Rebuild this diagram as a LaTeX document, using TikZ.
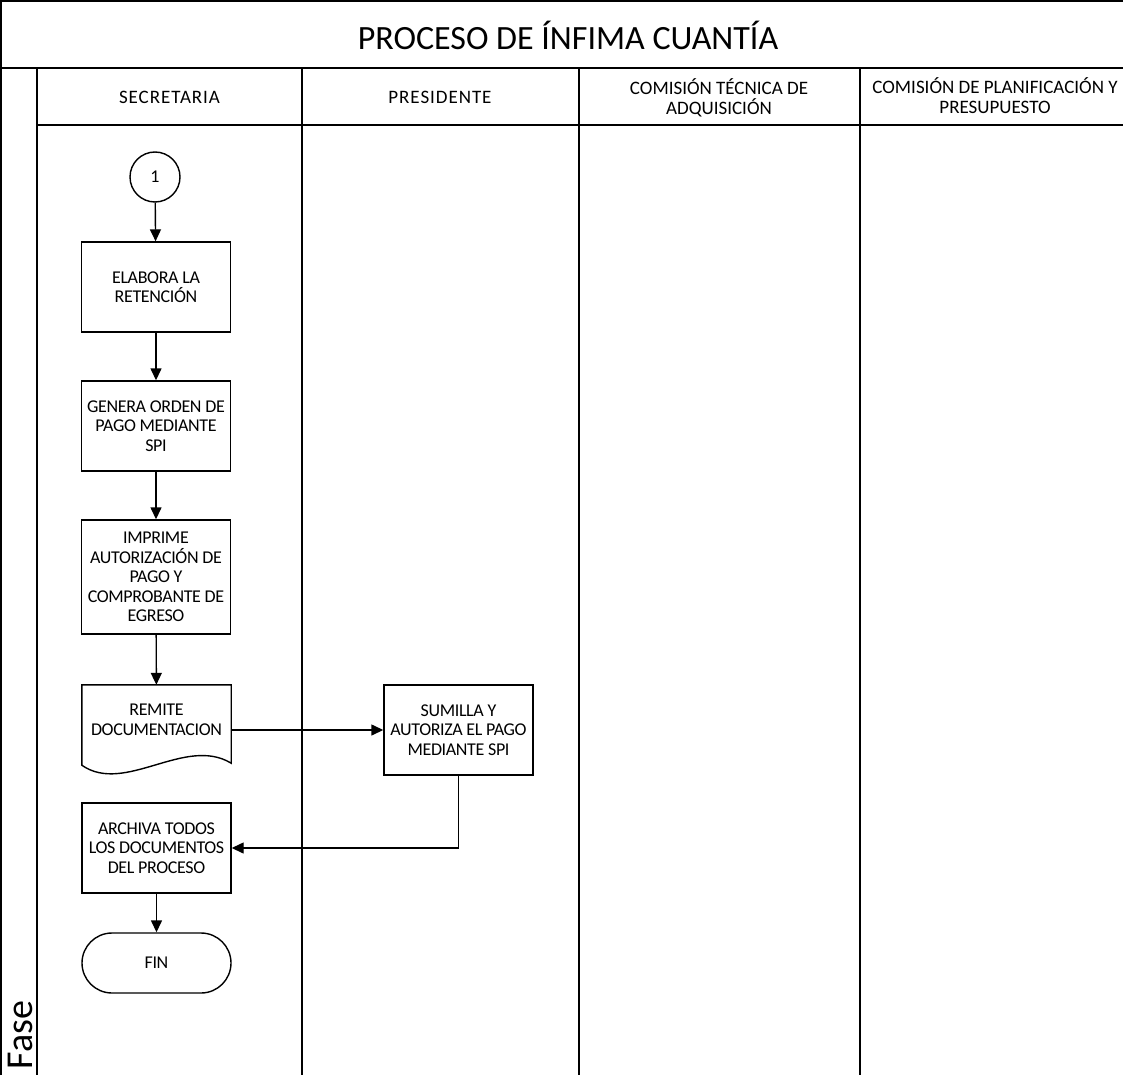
\documentclass[tikz,border=0pt]{standalone}
\usepackage{fontspec}
\setmainfont{Carlito}
\usetikzlibrary{arrows.meta}
\begin{document}
\begin{tikzpicture}[x=1pt,y=-1pt,
  grid/.style={line width=1.5pt},
  boxfont/.style={font=\fontsize{18}{19.5}\selectfont\addfontfeature{LetterSpace=-2}},
  proc/.style={draw, rectangle, line width=1.4pt, minimum width=149pt, minimum height=90pt,
    align=center, inner sep=1pt, boxfont},
  term/.style={proc, minimum height=60pt, rounded corners=30pt},
  conn/.style={draw, circle, line width=1.4pt, minimum size=50pt, inner sep=0pt, boxfont},
  label/.style={align=center, boxfont},
  hdr/.style={align=center, font=\fontsize{19}{20}\selectfont},
  hdrwide/.style={align=center, font=\fontsize{19}{20}\selectfont\addfontfeature{LetterSpace=5}},
  flow/.style={-{Triangle[length=12pt,width=11pt]}, line width=1.4pt},
]
\useasboundingbox (0,0) rectangle (1123,1075);

% frame, title row, phase column and lanes
\draw[grid] (1,1075) -- (1,1) -- (1123,1);
\draw[grid] (0,68) -- (1123,68);
\draw[grid] (37,68) -- (37,1075);
\draw[grid] (37,125) -- (1123,125);
\foreach \x in {302,579,860} \draw[grid] (\x,68) -- (\x,1075);

\node[font=\fontsize{34}{40}\selectfont] (title) at (568,35) {PROCESO DE ÍNFIMA CUANTÍA};
\node[rotate=90, font=\fontsize{38}{44}\selectfont] (fase) at (20,1035) {Fase};

\node[hdrwide] (h1) at (169.5,97) {SECRETARIA};
\node[hdrwide] (h2) at (440,97) {PRESIDENTE};
\node[hdr] (h3) at (719,98) {COMISIÓN TÉCNICA DE\\ADQUISICIÓN};
\node[hdr] (h4) at (995,96) {COMISIÓN DE PLANIFICACIÓN Y\\PRESUPUESTO};

% flow
\node[conn] (uno) at (155,177) {1};
\node[proc] (elabora) at (156,287) {ELABORA LA\\RETENCIÓN};
\node[proc] (genera) at (156,426) {GENERA ORDEN DE\\PAGO MEDIANTE\\SPI};
\node[proc, minimum height=114pt] (imprime) at (156,577) {IMPRIME\\AUTORIZACIÓN DE\\PAGO Y\\COMPROBANTE DE\\EGRESO};
\node[minimum width=149pt, minimum height=90pt, inner sep=0pt] (remite) at (156.5,730) {};
\draw[line width=1.4pt] (remite.north west) -- (remite.north east)
  -- ([yshift=12pt]remite.south east)
  .. controls +(-46,-28) and +(43,30) .. ([yshift=10pt]remite.south west) -- cycle;
\node[label] (remitetxt) at (156.5,720) {REMITE\\DOCUMENTACION};
\node[proc] (sumilla) at (458.5,730) {SUMILLA Y\\AUTORIZA EL PAGO\\MEDIANTE SPI};
\node[proc] (archiva) at (156.5,848) {ARCHIVA TODOS\\LOS DOCUMENTOS\\DEL PROCESO};
\node[term] (fin) at (156.5,963) {FIN};

\draw[flow] (uno) -- (elabora);
\draw[flow] (elabora) -- (genera);
\draw[flow] (genera) -- (imprime);
\draw[flow] (imprime) -- (remite);
\draw[flow] (remite.east) -- (sumilla.west);
\draw[flow] (sumilla.south) |- (archiva.east);
\draw[flow] (archiva) -- (fin);
\end{tikzpicture}
\end{document}
